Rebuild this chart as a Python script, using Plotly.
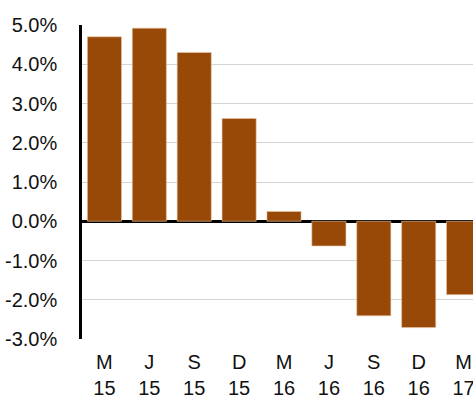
import plotly.graph_objects as go

categories = ["M<br>15", "J<br>15", "S<br>15", "D<br>15", "M<br>16", "J<br>16", "S<br>16", "D<br>16", "M<br>17"]
values = [4.7, 4.92, 4.3, 2.62, 0.25, -0.63, -2.41, -2.71, -1.87]
y_ticks = [-3, -2, -1, 0, 1, 2, 3, 4, 5]
y_tick_labels = ["-3.0%", "-2.0%", "-1.0%", "0.0%", "1.0%", "2.0%", "3.0%", "4.0%", "5.0%"]

fig = go.Figure(
    go.Bar(
        x=list(range(len(categories))),
        y=values,
        marker=dict(color="#984807", line=dict(color="#e8c9a8", width=0.6)),
        width=0.76,
    )
)

fig.update_layout(
    width=473,
    height=396,
    margin=dict(l=82, r=0, t=25, b=57),
    paper_bgcolor="white",
    plot_bgcolor="white",
    showlegend=False,
    font=dict(family="Liberation Sans, Arial, sans-serif", size=20, color="#111111"),
    xaxis=dict(
        tickmode="array",
        tickvals=list(range(len(categories))),
        ticktext=categories,
        range=[-0.5, 8.21],
        showgrid=False,
        showline=False,
        zeroline=False,
        ticks="outside",
        ticklen=5,
        tickcolor="rgba(0,0,0,0)",
        ticklabeloverflow="allow",
        automargin=False,
    ),
    yaxis=dict(
        tickmode="array",
        tickvals=y_ticks,
        ticktext=y_tick_labels,
        range=[-3, 5],
        showgrid=True,
        gridcolor="#d4d4d4",
        gridwidth=1,
        zeroline=True,
        zerolinecolor="black",
        zerolinewidth=2.5,
        showline=True,
        linecolor="black",
        linewidth=2.5,
        ticks="outside",
        ticklen=18,
        tickcolor="rgba(0,0,0,0)",
        automargin=False,
    ),
)

fig.write_html("out.html")
